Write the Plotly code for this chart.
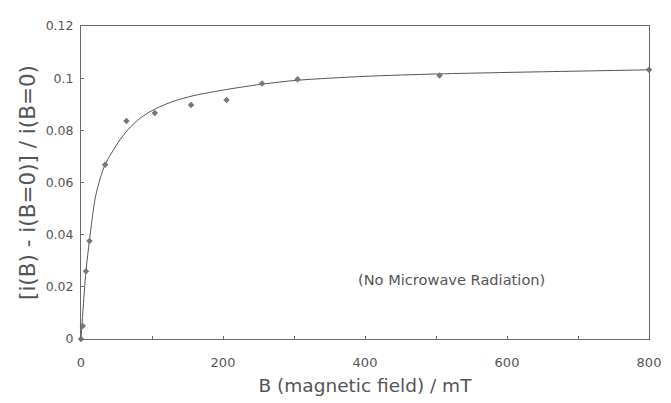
import plotly.graph_objects as go

# measured data points
B_points = [0, 2.5, 7, 12, 34, 64, 104, 155, 205, 255, 305, 505, 800]
y_points = [0, 0.005, 0.026, 0.0376, 0.0668, 0.0836, 0.0866, 0.0897, 0.0916, 0.098, 0.0996, 0.101, 0.1032]

# fitted curve
B_curve = [0, 2.5, 7, 12, 20, 27, 34, 52, 66, 84, 105, 130, 157, 206, 255, 305, 400, 500, 600, 700, 800]
y_curve = [0, 0.010, 0.026, 0.038, 0.054, 0.0615, 0.0669, 0.0752, 0.0802, 0.0848, 0.0883, 0.0911,
           0.0932, 0.0957, 0.0977, 0.0992, 0.1007, 0.1016, 0.1022, 0.1027, 0.1032]

x_tickvals = [0, 100, 200, 300, 400, 500, 600, 700, 800]
x_ticktext = ["0", "", "200", "", "400", "", "600", "", "800"]
y_tickvals = [0, 0.02, 0.04, 0.06, 0.08, 0.1, 0.12]
y_ticktext = ["0", "0.02", "0.04", "0.06", "0.08", "0.1", "0.12"]

grey = "#6a6a6a"
txt = "#555555"
FONT = "DejaVu Sans"

fig = go.Figure()
fig.add_trace(go.Scatter(x=B_curve, y=y_curve, mode="lines",
                         line=dict(color="#555555", width=1, shape="spline", smoothing=0.8),
                         showlegend=False, hoverinfo="skip", cliponaxis=False))
fig.add_trace(go.Scatter(x=B_points, y=y_points, mode="markers", cliponaxis=False,
                         marker=dict(symbol="diamond", size=5, color="#777777"), showlegend=False))

fig.add_annotation(x=522, y=0.0229, text="(No Microwave Radiation)", showarrow=False,
                   font=dict(size=14.6, color=txt, family=FONT), xanchor="center", yanchor="middle")

# page body has an 8px margin, so the figure is sized/placed to compensate
fig.update_layout(
    width=663, height=395,
    margin=dict(l=73, r=10, t=12, b=62),
    paper_bgcolor="white", plot_bgcolor="white",
    font=dict(family=FONT, color=txt),
    xaxis=dict(range=[0, 800], tickvals=x_tickvals, ticktext=x_ticktext, ticks="inside", ticklen=3,
               tickcolor=grey, showgrid=False, zeroline=False, showline=True, linecolor=grey, linewidth=1,
               mirror=True, tickfont=dict(size=13, color=txt), ticklabelstandoff=11,
               ticklabeloverflow="allow",
               title=dict(text="B (magnetic field) / mT", font=dict(size=18.5, color=txt), standoff=10)),
    yaxis=dict(range=[0, 0.12], tickvals=y_tickvals, ticktext=y_ticktext, ticks="inside", ticklen=3,
               tickcolor=grey, showgrid=False,
               zeroline=False, showline=True, linecolor=grey, linewidth=1, mirror=True,
               tickfont=dict(size=12.5, color=txt), ticklabelstandoff=4,
               title=dict(text="[i(B) - i(B=0)] / i(B=0)", font=dict(size=21.5, color=txt), standoff=4)),
)

fig.write_html("out.html")
